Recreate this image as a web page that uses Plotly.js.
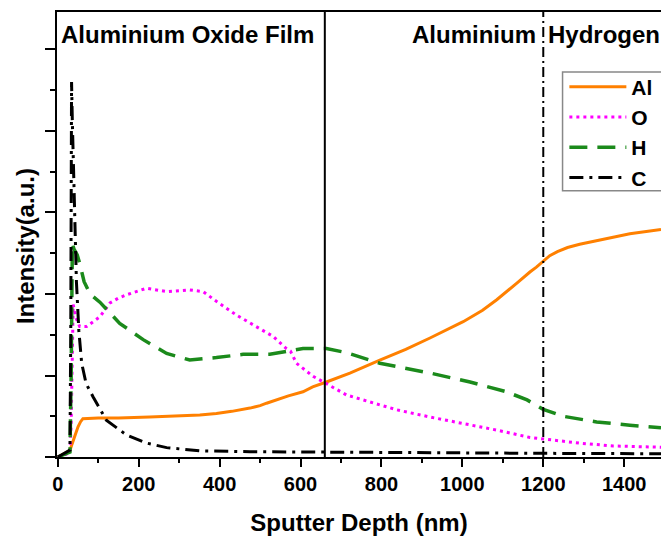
<!DOCTYPE html>
<html>
<head>
<meta charset="utf-8">
<script src="https://cdn.plot.ly/plotly-3.0.1.min.js"></script>
<style>html,body{margin:0;padding:0;background:#fff;}#chart{width:661px;height:537px;}</style>
</head>
<body>
<div id="chart"></div>
<script>
// Sputter depth (nm) and intensity (a.u.)
const alX = [0, 30, 34, 38, 44, 50, 56, 62, 100, 150, 227, 300, 351, 392, 430, 475, 500, 516, 540, 570, 606, 630, 664, 722, 796, 860, 920, 1002, 1050, 1085, 1134, 1150, 1167, 1183, 1200, 1216, 1235, 1260, 1290, 1348, 1414, 1491];
const alY = [0, 0.08, 0.14, 0.2, 0.3, 0.37, 0.43, 0.47, 0.48, 0.48, 0.49, 0.5, 0.515, 0.535, 0.56, 0.6, 0.63, 0.66, 0.7, 0.75, 0.8, 0.86, 0.92, 1.03, 1.19, 1.32, 1.46, 1.66, 1.8, 1.93, 2.13, 2.2, 2.27, 2.33, 2.4, 2.47, 2.52, 2.57, 2.61, 2.67, 2.74, 2.79];

const oX = [0, 30, 33, 35, 38, 44, 54, 71, 85, 104, 129, 150, 170, 219, 269, 326, 359, 392, 442, 491, 532, 565, 575, 590, 631, 664, 714, 755, 837, 920, 1002, 1085, 1167, 1200, 1290, 1373, 1491];
const oY = [0, 0.05, 0.4, 1.3, 1.87, 1.72, 1.6, 1.6, 1.65, 1.72, 1.89, 1.95, 1.99, 2.07, 2.03, 2.05, 2.03, 1.91, 1.74, 1.6, 1.48, 1.33, 1.3, 1.15, 0.99, 0.9, 0.76, 0.7, 0.58, 0.49, 0.41, 0.33, 0.24, 0.22, 0.17, 0.135, 0.12];

const hX = [0, 30, 33, 36, 40, 48, 55, 65, 80, 104, 153, 211, 269, 326, 392, 458, 524, 606, 664, 714, 796, 920, 1019, 1109, 1160, 1200, 1249, 1332, 1414, 1491];
const hY = [0, 0.06, 1.0, 2.62, 2.55, 2.48, 2.36, 2.15, 2.0, 1.9, 1.64, 1.44, 1.27, 1.19, 1.22, 1.26, 1.26, 1.33, 1.33, 1.28, 1.15, 1.03, 0.92, 0.8, 0.7, 0.585, 0.5, 0.43, 0.39, 0.36];

const cX = [0, 30, 32, 34, 36, 39, 42, 46, 52, 59, 70, 87, 120, 170, 220, 269, 351, 475, 664, 900, 1200, 1491];
const cY = [0, 0.085, 1.5, 4.6, 4.1, 3.4, 2.8, 2.15, 1.55, 1.15, 0.9, 0.74, 0.45, 0.27, 0.17, 0.115, 0.075, 0.065, 0.06, 0.05, 0.045, 0.04];

const seriesNames = ['Al', 'O', 'H', 'C'];
const boundaryX = [660, 1200];
const xTicks = [0, 200, 400, 600, 800, 1000, 1200, 1400];

const FONT = 'Liberation Sans, Arial, sans-serif';
const bold = (size) => ({family: FONT, size: size, color: '#000', weight: 'bold'});

const traces = [
  {x: alX, y: alY, name: seriesNames[0], mode: 'lines', line: {color: '#FF8000', width: 3}},
  {x: oX, y: oY, name: seriesNames[1], mode: 'lines', line: {color: '#FF00FF', width: 3, dash: '3px,4px'}},
  {x: hX, y: hY, name: seriesNames[2], mode: 'lines', line: {color: '#1B8A1B', width: 3.5, dash: '18px,10px'}},
  {x: cX, y: cY, name: seriesNames[3], mode: 'lines', line: {color: '#000000', width: 3, dash: '14px,6px,3px,6px'}}
];

const layout = {
  width: 661, height: 537,
  margin: {l: 57, r: 0, t: 12, b: 80},
  paper_bgcolor: '#fff', plot_bgcolor: '#fff',
  showlegend: true,
  legend: {
    x: 0.84, y: 0.8775, xanchor: 'left', yanchor: 'top',
    bgcolor: 'rgba(0,0,0,0)', borderwidth: 0,
    font: bold(21),
    itemwidth: 57, tracegroupgap: 0
  },
  xaxis: {
    range: [-2, 1491], showgrid: false, zeroline: false,
    showline: true, linecolor: '#000', linewidth: 2, mirror: true,
    ticks: 'outside', ticklen: 8, tickwidth: 2, tickcolor: '#000',
    tickvals: xTicks, ticktext: xTicks.map(String),
    minor: {ticks: 'outside', ticklen: 4, tickwidth: 2, tickcolor: '#000', dtick: 100, tick0: 0},
    tickfont: bold(20),
    title: {text: 'Sputter Depth (nm)', font: bold(24), standoff: 20}
  },
  yaxis: {
    range: [0, 5.46], showgrid: false, zeroline: false,
    showline: true, linecolor: '#000', linewidth: 2, mirror: true,
    ticks: 'outside', ticklen: 10, tickwidth: 2, tickcolor: '#000',
    dtick: 1, tick0: 0, showticklabels: false,
    minor: {ticks: 'outside', ticklen: 5, tickwidth: 2, tickcolor: '#000', dtick: 0.5, tick0: 0}
  },
  shapes: [
    {type: 'line', xref: 'x', yref: 'paper', x0: boundaryX[0], x1: boundaryX[0], y0: 0, y1: 1, line: {color: '#000', width: 2}},
    {type: 'line', xref: 'x', yref: 'paper', x0: boundaryX[1], x1: boundaryX[1], y0: 0, y1: 1, line: {color: '#000', width: 2, dash: '10px,4px,2px,4px'}},
    {type: 'rect', xref: 'paper', yref: 'paper', x0: 0.837, x1: 1.05, y0: 0.5985, y1: 0.8654, fillcolor: '#fff', line: {color: '#888', width: 1.5}, layer: 'above'}
  ],
  annotations: [
    {text: 'Intensity(a.u.)', xref: 'paper', yref: 'paper', x: -0.053, y: 0.474, xanchor: 'center', yanchor: 'middle', textangle: -90, showarrow: false, font: bold(24)},
    {text: 'Aluminium Oxide Film', xref: 'paper', yref: 'paper', x: 0.003, y: 0.95, xanchor: 'left', yanchor: 'middle', showarrow: false, font: bold(24)},
    {text: 'Aluminium', xref: 'x', yref: 'paper', x: 1187, y: 0.95, xanchor: 'right', yanchor: 'middle', showarrow: false, font: bold(24)},
    {text: 'Hydrogen', xref: 'x', yref: 'paper', x: 1206, y: 0.95, xanchor: 'left', yanchor: 'middle', showarrow: false, font: bold(24)}
  ]
};

Plotly.newPlot('chart', traces, layout, {displayModeBar: false, staticPlot: true});
</script>
</body>
</html>
